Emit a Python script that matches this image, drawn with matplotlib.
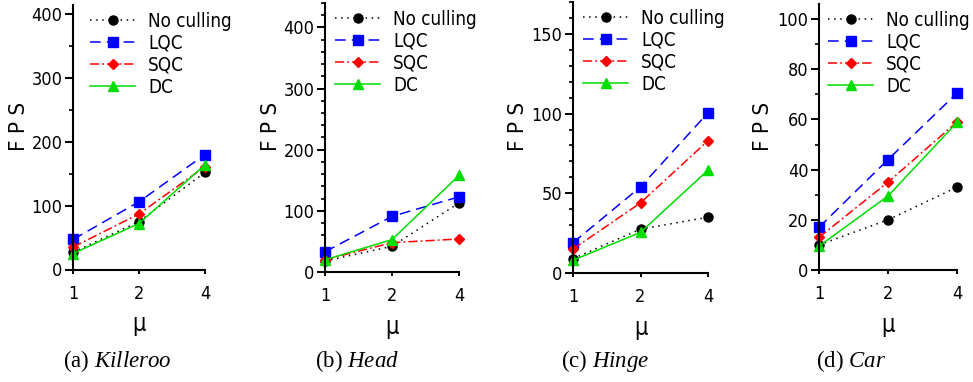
import matplotlib
matplotlib.use("Agg")
import matplotlib.pyplot as plt
from matplotlib import font_manager as fm
from matplotlib.ticker import MultipleLocator, FixedLocator, NullLocator, FixedFormatter

# data
mu = [1, 2, 4]
mu_labels = ["1", "2", "4"]
series_names = ["No culling", "LQC", "SQC", "DC"]

killeroo_none = [27, 75, 152]
killeroo_lqc = [47, 106, 180]
killeroo_sqc = [35, 87, 161]
killeroo_dc = [25, 72, 164]

head_none = [18, 42, 113]
head_lqc = [33, 91, 123]
head_sqc = [20, 48, 54]
head_dc = [20, 53, 158]

hinge_none = [9, 27.5, 35]
hinge_lqc = [19, 54, 100.5]
hinge_sqc = [15, 44, 83]
hinge_dc = [8, 25.5, 64.5]

car_none = [10, 20, 33]
car_lqc = [17, 44, 70.5]
car_sqc = [13, 35, 59]
car_dc = [9.5, 29.5, 58.8]

captions = [r"(a) $\mathit{Killeroo}$", r"(b) $\mathit{Head}$",
            r"(c) $\mathit{Hinge}$", r"(d) $\mathit{Car}$"]

# font setup
names = {f.name for f in fm.fontManager.ttflist}
sans = "DejaVu Sans Condensed" if "DejaVu Sans Condensed" in names else "DejaVu Sans"
plt.rcParams["font.family"] = [sans, "DejaVu Sans"]
plt.rcParams["font.stretch"] = "condensed"
plt.rcParams["mathtext.fontset"] = "custom"
plt.rcParams["mathtext.rm"] = "Liberation Serif"
plt.rcParams["mathtext.it"] = "Liberation Serif:italic"

styles = [
    dict(color="black", linestyle=(0, (1, 3)), marker="o", markersize=6.5),
    dict(color="#0000ff", linestyle=(0, (7, 4)), marker="s", markersize=6.5),
    dict(color="#ff0000", linestyle=(0, (6, 2, 1.2, 2)), marker="D", markersize=4.8),
    dict(color="#00dd00", linestyle="-", marker="^", markersize=7),
]

W, H = 973, 382
# per panel: left, right, top, bottom (pixels), ylim top, tick steps, legend x offset, caption centre
panels = [
    dict(rect=(73, 205, 5, 269.5), data=[killeroo_none, killeroo_lqc, killeroo_sqc, killeroo_dc],
         ytop=414, major=100, minor=50, leg=17, cap=117),
    dict(rect=(325, 459, 3, 272), data=[head_none, head_lqc, head_sqc, head_dc],
         ytop=440, major=100, minor=20, leg=10, cap=357),
    dict(rect=(573, 708, 2, 273), data=[hinge_none, hinge_lqc, hinge_sqc, hinge_dc],
         ytop=170, major=50, minor=10, leg=10, cap=605),
    dict(rect=(819, 957, 4, 270), data=[car_none, car_lqc, car_sqc, car_dc],
         ytop=106, major=20, minor=10, leg=9, cap=851),
]

fig = plt.figure(figsize=(W / 100, H / 100), dpi=100)

for p in panels:
    l, r, t, b = p["rect"]
    ax = fig.add_axes([l / W, 1 - b / H, (r - l) / W, (b - t) / H])
    for vals, name, st in zip(p["data"], series_names, styles):
        ax.plot(mu, vals, label=name, linewidth=1.1, clip_on=False, **st)

    ax.set_xscale("log", base=2)
    ax.set_xlim(1, 4)
    ax.xaxis.set_major_locator(FixedLocator(mu))
    ax.xaxis.set_major_formatter(FixedFormatter(mu_labels))
    ax.xaxis.set_minor_locator(NullLocator())
    ax.set_ylim(0, p["ytop"])
    ax.yaxis.set_major_locator(MultipleLocator(p["major"]))
    ax.yaxis.set_minor_locator(MultipleLocator(p["minor"]))

    for s in ["top", "right"]:
        ax.spines[s].set_visible(False)
    for s in ["left", "bottom"]:
        ax.spines[s].set_linewidth(1.5)
    ax.tick_params(axis="y", which="major", length=6, width=1.4, pad=1.5, labelsize=13)
    ax.tick_params(axis="y", which="minor", length=3, width=1.2)
    ax.tick_params(axis="x", which="major", length=3, width=1.4, pad=8, labelsize=13)

    ax.set_ylabel("F P S", fontsize=16)
    ax.yaxis.set_label_coords(-0.33, 0.54)
    ax.set_xlabel("μ", fontsize=17)
    ax.xaxis.set_label_coords(0.5, -0.16)

    ax.legend(loc="upper left", bbox_to_anchor=((p["leg"]) / (r - l), 0.975),
              frameon=False, fontsize=13.5, handlelength=2.4, handletextpad=0.7,
              labelspacing=0.16, borderpad=0, borderaxespad=0)

for p, cap in zip(panels, captions):
    fig.text(p["cap"] / W, 1 - 361 / H, cap, ha="center", va="center", fontsize=16.5,
             family="Liberation Serif")

fig.savefig("out.png", dpi=100)
